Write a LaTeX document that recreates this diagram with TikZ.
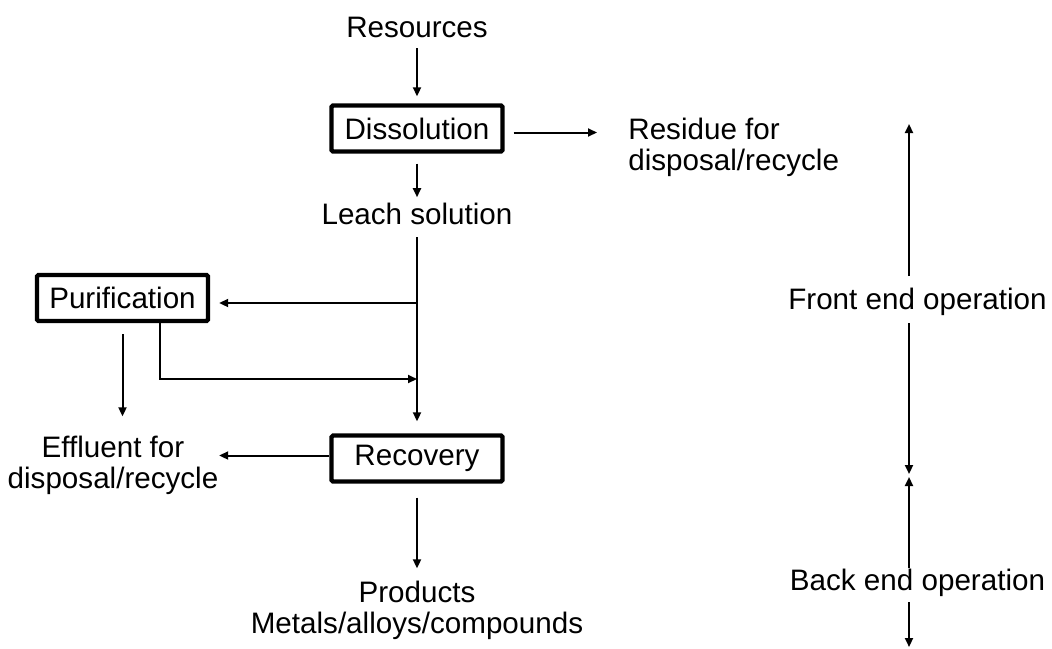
\documentclass[tikz,border=0pt]{standalone}
\usepackage{fontspec}
\setmainfont{Liberation Sans}
\usetikzlibrary{arrows.meta}
\tikzset{
  every node/.style={font=\fontsize{14.8pt}{15.5pt}\selectfont, inner sep=0pt},
  procbox/.style={draw, line width=2.2pt, rounded corners=0.8pt, minimum width=85.5pt, minimum height=23pt, inner sep=0pt},
  lbl/.style={align=center},
  arr/.style={line width=1pt, -{Triangle[length=4.5pt,width=4pt]}},
  plain/.style={line width=1pt}
}
\begin{document}
\begin{tikzpicture}[x=0.5pt,y=-0.5pt]
\useasboundingbox (0,0) rectangle (1052,648);
% nodes
\node[lbl] (res) at (417,27) {Resources};
\node[procbox] (diss) at (417,128.5) {Dissolution};
\node[align=left, anchor=west] (resid) at (628,147) {Residue for\\disposal/recycle};
\node[lbl] (leach) at (417,214) {Leach solution};
\node[procbox] (puri) at (122.5,298) {Purification};
\node[procbox] (reco) at (417,458.5) {Recovery};
\node[lbl] (eff) at (113,465.5) {Effluent for\\disposal/recycle};
\node[lbl] (prod) at (417,610.5) {Products\\Metals/alloys/compounds};
\node (front) at (917.5,302) {Front end operation};
\node (back) at (917.5,583) {Back end operation};
% helper coordinates
\coordinate (j1) at (417,303);
\coordinate (pb) at (160,379);
\coordinate (f1) at (909,124);
\coordinate (f2) at (909,276);
\coordinate (f3) at (909,323);
\coordinate (f4) at (909,474);
\coordinate (b1) at (909,477);
\coordinate (b2) at (909,568);
\coordinate (b3) at (909,602);
\coordinate (b4) at (909,647);
% flow connectors
\draw[arr, shorten <=5.25pt, shorten >=3.5pt] (res.south) -- (diss.north);
\draw[arr, shorten <=4.5pt, shorten >=15.5pt] ([yshift=-2pt]diss.east) -- ([yshift=-2pt]diss.east -| resid.west);
\draw[arr, shorten <=5pt, shorten >=2.75pt] (diss.south) -- (leach.north);
\draw[arr, shorten <=6pt, shorten >=6pt] (leach.south) -- (reco.north);
\draw[arr, shorten >=4.5pt] (j1) -- (puri.east |- j1);
\draw[arr] (puri.south -| pb) -- (pb) -- (pb -| reco.north);
\draw[arr, shorten <=5.5pt, shorten >=9.75pt] (puri.south) -- (puri.south |- eff.north);
\draw[arr, shorten >=4.5pt] ([yshift=1.5pt]reco.west) -- ([yshift=1.5pt]reco.west -| puri.east);
\draw[arr, shorten <=7pt, shorten >=6.25pt] (reco.south) -- (prod.north);
% front / back end scale
\draw[arr] (f2) -- (f1);
\draw[arr] (f3) -- (f4);
\draw[arr] (b2) -- (b1);
\draw[arr] (b3) -- (b4);
\end{tikzpicture}
\end{document}
